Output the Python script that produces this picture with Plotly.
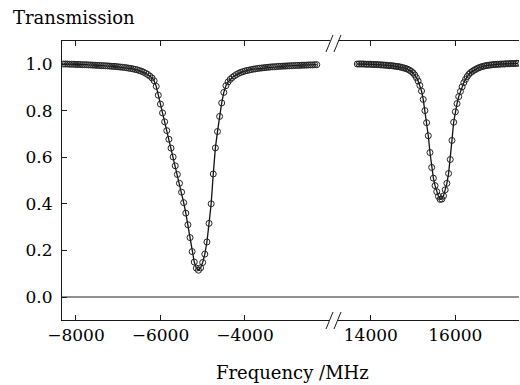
import plotly.graph_objects as go

# ---------------- data ----------------
freq_left = [
    -8300, -8250, -8200, -8150, -8100, -8050, -8000, -7950, -7900, -7850,
    -7800, -7750, -7700, -7650, -7600, -7550, -7500, -7450, -7400, -7350,
    -7300, -7250, -7200, -7150, -7100, -7050, -7000, -6950, -6900, -6850,
    -6800, -6750, -6700, -6650, -6600, -6550, -6500, -6450, -6400, -6350,
    -6300, -6250, -6200, -6150, -6100, -6050, -6000, -5950, -5900, -5850,
    -5800, -5750, -5700, -5650, -5600, -5550, -5500, -5450, -5400, -5350,
    -5300, -5250, -5200, -5150, -5100, -5050, -5000, -4950, -4900, -4850,
    -4800, -4750, -4700, -4650, -4600, -4550, -4500, -4450, -4400, -4350,
    -4300, -4250, -4200, -4150, -4100, -4050, -4000, -3950, -3900, -3850,
    -3800, -3750, -3700, -3650, -3600, -3550, -3500, -3450, -3400, -3350,
    -3300, -3250, -3200, -3150, -3100, -3050, -3000, -2950, -2900, -2850,
    -2800, -2750, -2700, -2650, -2600, -2550, -2500, -2450, -2400, -2350,
    -2300,
]
trans_left = [
    1.000, 1.000, 1.000, 0.999, 0.999, 0.999, 0.998, 0.998, 0.998, 0.997,
    0.997, 0.997, 0.996, 0.996, 0.995, 0.995, 0.994, 0.994, 0.993, 0.993,
    0.992, 0.992, 0.991, 0.990, 0.990, 0.989, 0.988, 0.987, 0.986, 0.985,
    0.984, 0.982, 0.981, 0.979, 0.977, 0.975, 0.972, 0.969, 0.965, 0.960,
    0.955, 0.948, 0.940, 0.928, 0.904, 0.866, 0.828, 0.790, 0.752, 0.714,
    0.677, 0.639, 0.601, 0.563, 0.526, 0.488, 0.450, 0.405, 0.360, 0.310,
    0.255, 0.195, 0.150, 0.124, 0.115, 0.125, 0.148, 0.184, 0.236, 0.316,
    0.400, 0.528, 0.640, 0.710, 0.775, 0.833, 0.878, 0.907, 0.923, 0.934,
    0.942, 0.949, 0.955, 0.960, 0.964, 0.967, 0.970, 0.972, 0.974, 0.976,
    0.978, 0.979, 0.981, 0.982, 0.983, 0.984, 0.985, 0.986, 0.987, 0.988,
    0.988, 0.989, 0.990, 0.990, 0.991, 0.991, 0.992, 0.992, 0.993, 0.993,
    0.994, 0.994, 0.994, 0.995, 0.995, 0.995, 0.996, 0.996, 0.996, 0.997,
    0.997,
]

freq_right = [
    13680, 13720, 13760, 13800, 13840, 13880, 13920, 13960, 14000, 14040,
    14080, 14120, 14160, 14200, 14240, 14280, 14320, 14360, 14400, 14440,
    14480, 14520, 14560, 14600, 14640, 14680, 14720, 14760, 14800, 14840,
    14880, 14920, 14960, 15000, 15040, 15080, 15120, 15160, 15200, 15240,
    15280, 15320, 15360, 15400, 15440, 15480, 15520, 15560, 15600, 15640,
    15680, 15720, 15760, 15800, 15840, 15880, 15920, 15960, 16000, 16040,
    16080, 16120, 16160, 16200, 16240, 16280, 16320, 16360, 16400, 16440,
    16480, 16520, 16560, 16600, 16640, 16680, 16720, 16760, 16800, 16840,
    16880, 16920, 16960, 17000, 17040, 17080, 17120, 17160, 17200, 17240,
    17280, 17320, 17360, 17400, 17440, 17480,
]
trans_right = [
    1.000, 1.000, 1.000, 1.000, 1.000, 0.999, 0.999, 0.999, 0.999, 0.998,
    0.998, 0.998, 0.997, 0.997, 0.996, 0.996, 0.995, 0.995, 0.994, 0.993,
    0.993, 0.992, 0.991, 0.990, 0.989, 0.988, 0.986, 0.984, 0.982, 0.980,
    0.977, 0.973, 0.968, 0.962, 0.953, 0.941, 0.927, 0.908, 0.884, 0.848,
    0.800, 0.748, 0.692, 0.620, 0.556, 0.510, 0.478, 0.452, 0.432, 0.419,
    0.420, 0.434, 0.460, 0.488, 0.530, 0.590, 0.672, 0.750, 0.795, 0.830,
    0.860, 0.882, 0.902, 0.920, 0.934, 0.946, 0.956, 0.963, 0.968, 0.973,
    0.977, 0.981, 0.984, 0.987, 0.989, 0.991, 0.993, 0.994, 0.995, 0.996,
    0.997, 0.998, 0.998, 0.999, 0.999, 1.000, 1.000, 1.000, 1.001, 1.001,
    1.001, 1.002, 1.002, 1.002, 1.003, 1.003,
]

x_ticks_left = [-8000, -6000, -4000]
x_ticklabels_left = ["\u22128000", "\u22126000", "\u22124000"]
x_ticks_right = [14000, 16000]
x_ticklabels_right = ["14000", "16000"]
y_ticks = [0.0, 0.2, 0.4, 0.6, 0.8, 1.0]
y_ticklabels = ["0.0", "0.2", "0.4", "0.6", "0.8", "1.0"]

y_label = "Transmission"
x_label = "Frequency /MHz"

# ---------------- layout geometry ----------------
W, H = 520, 385
ML, MR, MT, MB = 62, 1, 41, 65
PW = W - ML - MR
PH = H - MT - MB


def px(xp):
    return (xp - ML) / PW


def py(yp):
    return (H - MB - yp) / PH


FONT = "DejaVu Serif"
AX = "#1a1a1a"

fig = go.Figure()

line_style = dict(color="#111111", width=1.3)
marker_style = dict(symbol="circle-open", size=6,
                    line=dict(color="#222222", width=1.0), color="#222222")

fig.add_trace(go.Scatter(x=freq_left, y=trans_left, mode="lines",
                         line=line_style, xaxis="x", yaxis="y",
                         showlegend=False, hoverinfo="skip"))
fig.add_trace(go.Scatter(x=freq_left, y=trans_left, mode="markers",
                         marker=marker_style, xaxis="x", yaxis="y",
                         showlegend=False))
fig.add_trace(go.Scatter(x=freq_right, y=trans_right, mode="lines",
                         line=line_style, xaxis="x2", yaxis="y",
                         showlegend=False, hoverinfo="skip"))
fig.add_trace(go.Scatter(x=freq_right, y=trans_right, mode="markers",
                         marker=marker_style, xaxis="x2", yaxis="y",
                         showlegend=False))

common_x = dict(showline=True, linecolor=AX, linewidth=1, mirror="ticks",
                ticks="inside", ticklen=5, tickwidth=1, tickcolor=AX,
                showgrid=False, zeroline=False,
                tickfont=dict(family=FONT, size=17, color="black"))

fig.update_layout(
    width=W, height=H,
    margin=dict(l=ML, r=MR, t=MT, b=MB),
    paper_bgcolor="white", plot_bgcolor="white",
    xaxis=dict(domain=[0, px(330)], range=[-8330, -1987],
               tickvals=x_ticks_left, ticktext=x_ticklabels_left,
               anchor="y", **common_x),
    xaxis2=dict(domain=[px(338), 1], range=[13224, 17506],
                tickvals=x_ticks_right, ticktext=x_ticklabels_right,
                anchor="y", **common_x),
    yaxis=dict(range=[-0.0987, 1.0987], domain=[0, 1], anchor="x",
               tickvals=y_ticks, ticktext=y_ticklabels,
               showline=True, linecolor=AX, linewidth=1, mirror=False,
               ticks="inside", ticklen=5, tickwidth=1, tickcolor=AX,
               ticklabelstandoff=5,
               showgrid=False, zeroline=False,
               tickfont=dict(family=FONT, size=17, color="black")),
    yaxis2=dict(range=[-0.0987, 1.0987], domain=[0, 1], anchor="x2",
                overlaying="y", side="right", matches="y",
                tickvals=y_ticks, showticklabels=False,
                showline=True, linecolor=AX, linewidth=1,
                ticks="inside", ticklen=5, tickwidth=1, tickcolor=AX,
                showgrid=False, zeroline=False),
    font=dict(family=FONT, color="black"),
)

shapes = []
# zero reference line across the whole width (including the gap)
shapes.append(dict(type="line", xref="paper", yref="y", x0=0, x1=1, y0=0, y1=0,
                   line=dict(color="#222222", width=1)))
# axis-break marks
for (xa, ya, xb, yb) in [(326, 52, 333, 35), (334, 52, 341, 35),
                         (326, 329, 333, 312), (334, 329, 341, 312)]:
    shapes.append(dict(type="line", xref="paper", yref="paper",
                       x0=px(xa), y0=py(ya), x1=px(xb), y1=py(yb),
                       line=dict(color=AX, width=1)))
fig.update_layout(shapes=shapes)

fig.add_annotation(text=y_label, xref="paper", yref="paper",
                   x=px(11), y=py(17), xanchor="left", yanchor="middle",
                   showarrow=False, font=dict(family=FONT, size=18, color="black"))
fig.add_annotation(text=x_label, xref="paper", yref="paper",
                   x=px(292), y=py(372), xanchor="center", yanchor="middle",
                   showarrow=False, font=dict(family=FONT, size=18, color="black"))

fig.write_html("out.html",
               config={"displayModeBar": False},
               post_script="document.body.style.margin='0px';"
                           "document.body.style.padding='0px';")
